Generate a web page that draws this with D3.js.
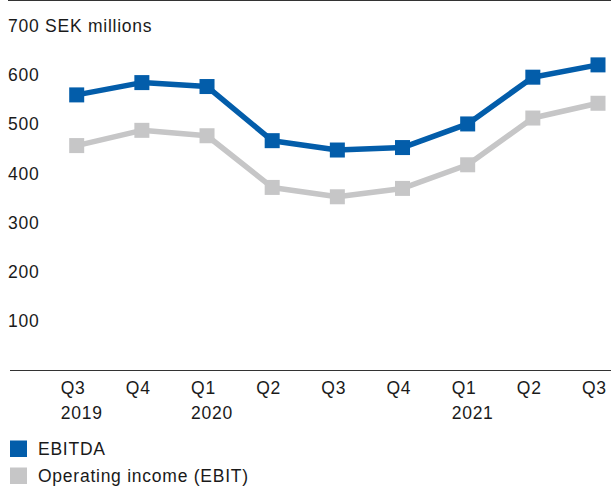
<!DOCTYPE html>
<html>
<head>
<meta charset="utf-8">
<script src="https://cdn.jsdelivr.net/npm/d3@7"></script>
<style>
  body { margin: 0; background: #fff; }
  text { font-family: "Liberation Sans", Arial, sans-serif; font-size: 17.5px; fill: #1a1a1a; letter-spacing: 0.75px; }
</style>
</head>
<body>
<div id="chart"></div>
<script>
const quarters = ["Q3", "Q4", "Q1", "Q2", "Q3", "Q4", "Q1", "Q2", "Q3"];
const years = ["2019", "", "2020", "", "", "", "2021", "", ""];
const ebitda = [560, 585, 577, 467, 448, 453, 501, 596, 621];
const ebit = [457, 488, 477, 372, 353, 370, 418, 513, 543];
const yTicks = [100, 200, 300, 400, 500, 600, 700];

const width = 611, height = 486;
const blue = "#035daa", grey = "#c6c6c7";

const svg = d3.select("#chart").append("svg")
    .attr("width", width)
    .attr("height", height);

const x = d3.scalePoint()
    .domain(d3.range(quarters.length))
    .range([76.7, 598]);

const y = d3.scaleLinear()
    .domain([0, 700])
    .range([370.5, 26]);

// top rule and baseline
svg.append("line")
    .attr("x1", 8).attr("x2", width)
    .attr("y1", 0.5).attr("y2", 0.5)
    .attr("stroke", "#333").attr("stroke-width", 1.2);

svg.append("line")
    .attr("x1", 10).attr("x2", width)
    .attr("y1", y(0)).attr("y2", y(0))
    .attr("stroke", "#333").attr("stroke-width", 1.2);

// y tick labels
svg.selectAll(".ylab")
    .data(yTicks)
    .enter()
    .append("text")
    .attr("class", "ylab")
    .attr("x", 8)
    .attr("y", d => y(d) + 6)
    .text(d => d === 700 ? "700 SEK millions" : d);

// x tick labels
const xl = svg.selectAll(".xlab")
    .data(quarters)
    .enter()
    .append("text")
    .attr("class", "xlab")
    .attr("x", (d, i) => x(i) - 16)
    .attr("y", 394);
xl.append("tspan").text(d => d);
xl.append("tspan")
    .attr("x", (d, i) => x(i) - 16)
    .attr("dy", 25)
    .text((d, i) => years[i]);

const line = d3.line()
    .x((d, i) => x(i))
    .y(d => y(d));

function drawSeries(data, color) {
    svg.append("path")
        .datum(data)
        .attr("d", line)
        .attr("fill", "none")
        .attr("stroke", color)
        .attr("stroke-width", 5.5)
        .attr("stroke-linejoin", "round");

    svg.append("g")
        .selectAll("rect")
        .data(data)
        .enter()
        .append("rect")
        .attr("x", (d, i) => x(i) - 7.5)
        .attr("y", d => y(d) - 7.5)
        .attr("width", 15)
        .attr("height", 15)
        .attr("fill", color);
}

drawSeries(ebit, grey);
drawSeries(ebitda, blue);

// legend
const legend = [
    {name: "EBITDA", color: blue},
    {name: "Operating income (EBIT)", color: grey}
];
const lg = svg.selectAll(".leg")
    .data(legend)
    .enter()
    .append("g")
    .attr("transform", (d, i) => "translate(10," + (440.5 + i * 27) + ")");
lg.append("rect")
    .attr("width", 17)
    .attr("height", 16.5)
    .attr("fill", d => d.color);
lg.append("text")
    .attr("x", 28)
    .attr("y", 14.5)
    .text(d => d.name);
</script>
</body>
</html>
